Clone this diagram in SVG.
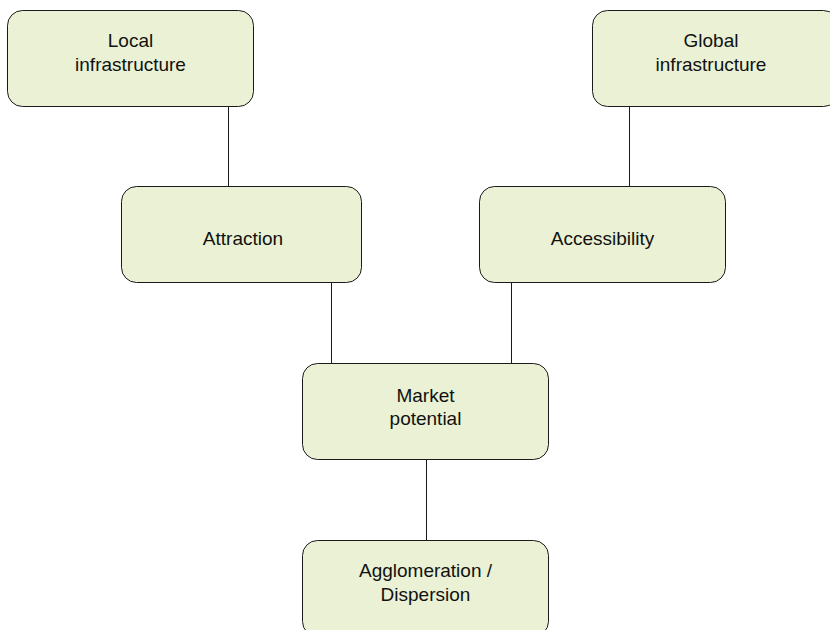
<svg xmlns="http://www.w3.org/2000/svg" width="830" height="630" viewBox="0 0 830 630">
<style>
.box{fill:#eaf1d4;stroke:#1a1a1a;stroke-width:1}
.lbl{font-family:"Liberation Sans",Arial,sans-serif;font-size:19px;fill:#111;text-anchor:middle}
.edge{stroke:#1a1a1a;stroke-width:1;fill:none}
</style>
<rect width="830" height="630" fill="#fff"/>
<g id="connectors">
<line class="edge" x1="228.5" y1="107" x2="228.5" y2="186"/>
<line class="edge" x1="629.5" y1="107" x2="629.5" y2="186"/>
<line class="edge" x1="331.5" y1="282" x2="331.5" y2="363"/>
<line class="edge" x1="511.5" y1="282" x2="511.5" y2="363"/>
<line class="edge" x1="426.5" y1="459" x2="426.5" y2="540"/>
</g>
<g id="local">
<rect class="box" x="7.5" y="10.5" width="246" height="96" rx="15"/>
<text class="lbl" x="130.5" y="46.5">Local</text>
<text class="lbl" x="130.5" y="70.5">infrastructure</text>
</g>
<g id="global">
<rect class="box" x="592.5" y="10.5" width="246" height="96" rx="15"/>
<text class="lbl" x="711" y="46.5">Global</text>
<text class="lbl" x="711" y="70.5">infrastructure</text>
</g>
<g id="attraction">
<rect class="box" x="121.5" y="186.5" width="240" height="96" rx="15"/>
<text class="lbl" x="243" y="245">Attraction</text>
</g>
<g id="accessibility">
<rect class="box" x="479.5" y="186.5" width="246" height="96" rx="15"/>
<text class="lbl" x="602.5" y="245">Accessibility</text>
</g>
<g id="market">
<rect class="box" x="302.5" y="363.5" width="246" height="96" rx="15"/>
<text class="lbl" x="425.5" y="401.5">Market</text>
<text class="lbl" x="425.5" y="425">potential</text>
</g>
<g id="agglomeration">
<rect class="box" x="302.5" y="540.5" width="246" height="96" rx="15"/>
<text class="lbl" x="425.5" y="577">Agglomeration /</text>
<text class="lbl" x="425.5" y="601">Dispersion</text>
</g>
</svg>
